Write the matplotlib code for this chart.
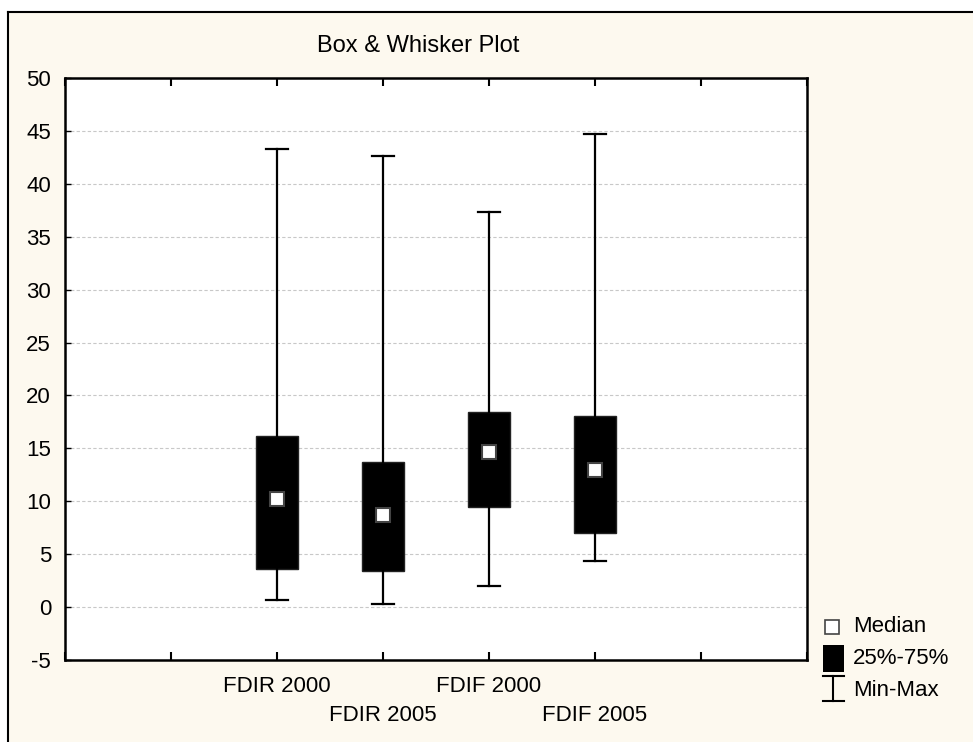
import matplotlib
matplotlib.use('Agg')
import matplotlib.pyplot as plt
from matplotlib.patches import Rectangle
from matplotlib.lines import Line2D

plt.rcParams['font.family'] = ['Liberation Sans', 'DejaVu Sans']
plt.rcParams['axes.unicode_minus'] = False

labels = ['FDIR 2000', 'FDIR 2005', 'FDIF 2000', 'FDIF 2005']
positions = [2, 3, 4, 5]
mins = [0.65, 0.25, 1.95, 4.4]
q1 = [3.6, 3.4, 9.45, 7.0]
medians = [10.2, 8.7, 14.65, 13.0]
q3 = [16.15, 13.7, 18.4, 18.1]
maxs = [43.3, 42.6, 37.3, 44.7]

W, H = 973, 742
fig = plt.figure(figsize=(W / 100, H / 100), dpi=100, facecolor='white')


def fx(px):
    return px / W


def fy(py):
    return 1 - py / H


# cream panel with border on left and top
fig.patches.append(Rectangle((fx(8), 0), 1.0, fy(12), transform=fig.transFigure,
                             facecolor='#fdf9ef', edgecolor='none', zorder=-10))
fig.lines.append(Line2D([fx(8), fx(8)], [0, fy(12)], transform=fig.transFigure,
                        color='black', lw=1.5, zorder=-5))
fig.lines.append(Line2D([fx(8), 1], [fy(12), fy(12)], transform=fig.transFigure,
                        color='black', lw=1.5, zorder=-5))

ax = fig.add_axes([fx(65), fy(660), fx(807) - fx(65), fy(78) - fy(660)])
ax.set_zorder(1)
ax.set_facecolor('white')

stats = []
for i in range(len(labels)):
    stats.append({'whislo': mins[i], 'q1': q1[i], 'med': medians[i],
                  'q3': q3[i], 'whishi': maxs[i], 'fliers': []})

ax.bxp(stats, positions=positions, widths=0.4, capwidths=0.2, patch_artist=True,
       showfliers=False,
       boxprops=dict(facecolor='black', edgecolor='#222222', linewidth=1),
       whiskerprops=dict(color='black', linewidth=1.6),
       capprops=dict(color='black', linewidth=1.6),
       medianprops=dict(linewidth=0))
ax.plot(positions, medians, linestyle='none', marker='s', markersize=10,
        markerfacecolor='white', markeredgecolor='#444444', markeredgewidth=1.5, zorder=5)

ax.set_xlim(0, 7)
ax.set_ylim(-5, 50)
ax.set_yticks(range(-5, 51, 5))
ax.set_xticks(range(0, 8))
ax.set_xticklabels([])
ax.tick_params(axis='x', direction='in', length=6, width=1.5, top=True)
ax.tick_params(axis='y', direction='in', length=4, width=1, labelsize=16, pad=10)
ax.yaxis.grid(True, color='#c8c8c8', linestyle=(0, (3, 2)), linewidth=0.8)
ax.set_axisbelow(True)
for s in ax.spines.values():
    s.set_linewidth(1.8)

for i, lab in enumerate(labels):
    ypos = -0.045 if i % 2 == 0 else -0.096
    ax.text(positions[i], ypos, lab, transform=ax.get_xaxis_transform(),
            ha='center', va='center', fontsize=16)

fig.text(fx(418), fy(46), 'Box & Whisker Plot', ha='center', va='center', fontsize=17)

# legend
fig.lines.append(Line2D([fx(832)], [fy(627)], transform=fig.transFigure, marker='s',
                        markersize=10, markerfacecolor='white', markeredgecolor='#444444',
                        markeredgewidth=1.2, linestyle='none'))
fig.patches.append(Rectangle((fx(823), fy(672)), fx(844) - fx(823), fy(645) - fy(672),
                             transform=fig.transFigure, facecolor='black', edgecolor='none'))
fig.lines.append(Line2D([fx(833), fx(833)], [fy(676), fy(701)], transform=fig.transFigure,
                        color='black', lw=1.5))
fig.lines.append(Line2D([fx(823), fx(844)], [fy(676), fy(676)], transform=fig.transFigure,
                        color='black', lw=1.5))
fig.lines.append(Line2D([fx(823), fx(844)], [fy(701), fy(701)], transform=fig.transFigure,
                        color='black', lw=1.5))
for txt, py in [('Median', 627), ('25%-75%', 658), ('Min-Max', 690)]:
    fig.text(fx(853), fy(py), txt, ha='left', va='center', fontsize=16)

fig.savefig('out.png', dpi=100)
